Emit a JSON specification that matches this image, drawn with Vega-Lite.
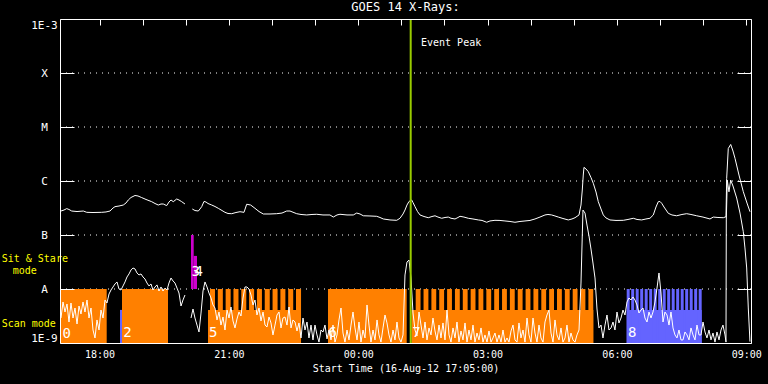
{
  "$schema": "https://vega.github.io/schema/vega-lite/v6.json",
  "width": 691,
  "height": 324,
  "autosize": "none",
  "padding": {"left": 60, "top": 19, "right": 17, "bottom": 41},
  "background": "black",
  "title": {"text": "GOES 14 X-Rays:", "color": "white", "font": "DejaVu Sans Mono", "fontSize": 12, "fontWeight": "normal", "offset": 4, "anchor": "middle"},
  "config": {
    "view": {"stroke": null},
    "axis": {"domainColor": "white", "tickColor": "white", "labelColor": "white", "grid": false, "domainWidth": 1, "tickWidth": 1}
  },
  "datasets": {
    "grid": [{"f": 1e-8}, {"f": 1e-7}, {"f": 1e-6}, {"f": 1e-5}, {"f": 1e-4}],
    "rects": [
      {"t0": 17.0833, "t1": 18.1664, "f0": 1e-9, "f1": 1e-8, "k": "scan"},
      {"t0": 18.4749, "t1": 18.5213, "f0": 1e-9, "f1": 4.1e-9, "k": "blue"},
      {"t0": 18.5213, "t1": 19.5882, "f0": 1e-9, "f1": 1e-8, "k": "scan"},
      {"t0": 20.1216, "t1": 20.1842, "f0": 1e-8, "f1": 1e-7, "k": "stare"},
      {"t0": 20.1842, "t1": 20.2608, "f0": 1e-8, "f1": 4.1e-8, "k": "stare"},
      {"t0": 20.5159, "t1": 22.6729, "f0": 1e-9, "f1": 4.1e-9, "k": "scan"},
      {"t0": 20.5623, "t1": 20.6787, "f0": 1e-9, "f1": 1e-8, "k": "scan"},
      {"t0": 20.7437, "t1": 20.8601, "f0": 1e-9, "f1": 1e-8, "k": "scan"},
      {"t0": 20.9250, "t1": 21.0414, "f0": 1e-9, "f1": 1e-8, "k": "scan"},
      {"t0": 21.1064, "t1": 21.2228, "f0": 1e-9, "f1": 1e-8, "k": "scan"},
      {"t0": 21.2878, "t1": 21.4042, "f0": 1e-9, "f1": 1e-8, "k": "scan"},
      {"t0": 21.4691, "t1": 21.5855, "f0": 1e-9, "f1": 1e-8, "k": "scan"},
      {"t0": 21.6505, "t1": 21.7669, "f0": 1e-9, "f1": 1e-8, "k": "scan"},
      {"t0": 21.8319, "t1": 21.9483, "f0": 1e-9, "f1": 1e-8, "k": "scan"},
      {"t0": 22.0133, "t1": 22.1297, "f0": 1e-9, "f1": 1e-8, "k": "scan"},
      {"t0": 22.1946, "t1": 22.3110, "f0": 1e-9, "f1": 1e-8, "k": "scan"},
      {"t0": 22.3760, "t1": 22.4924, "f0": 1e-9, "f1": 1e-8, "k": "scan"},
      {"t0": 22.5574, "t1": 22.6738, "f0": 1e-9, "f1": 1e-8, "k": "scan"},
      {"t0": 23.2990, "t1": 25.1243, "f0": 1e-9, "f1": 1e-8, "k": "scan"},
      {"t0": 25.2356, "t1": 29.4521, "f0": 1e-9, "f1": 4.1e-9, "k": "scan"},
      {"t0": 25.3330, "t1": 25.4455, "f0": 1e-9, "f1": 1e-8, "k": "scan"},
      {"t0": 25.5151, "t1": 25.6276, "f0": 1e-9, "f1": 1e-8, "k": "scan"},
      {"t0": 25.6971, "t1": 25.8096, "f0": 1e-9, "f1": 1e-8, "k": "scan"},
      {"t0": 25.8792, "t1": 25.9917, "f0": 1e-9, "f1": 1e-8, "k": "scan"},
      {"t0": 26.0613, "t1": 26.1738, "f0": 1e-9, "f1": 1e-8, "k": "scan"},
      {"t0": 26.2434, "t1": 26.3559, "f0": 1e-9, "f1": 1e-8, "k": "scan"},
      {"t0": 26.4254, "t1": 26.5379, "f0": 1e-9, "f1": 1e-8, "k": "scan"},
      {"t0": 26.6075, "t1": 26.7200, "f0": 1e-9, "f1": 1e-8, "k": "scan"},
      {"t0": 26.7896, "t1": 26.9021, "f0": 1e-9, "f1": 1e-8, "k": "scan"},
      {"t0": 26.9716, "t1": 27.0841, "f0": 1e-9, "f1": 1e-8, "k": "scan"},
      {"t0": 27.1537, "t1": 27.2662, "f0": 1e-9, "f1": 1e-8, "k": "scan"},
      {"t0": 27.3358, "t1": 27.4483, "f0": 1e-9, "f1": 1e-8, "k": "scan"},
      {"t0": 27.5178, "t1": 27.6303, "f0": 1e-9, "f1": 1e-8, "k": "scan"},
      {"t0": 27.6999, "t1": 27.8124, "f0": 1e-9, "f1": 1e-8, "k": "scan"},
      {"t0": 27.8820, "t1": 27.9945, "f0": 1e-9, "f1": 1e-8, "k": "scan"},
      {"t0": 28.0641, "t1": 28.1766, "f0": 1e-9, "f1": 1e-8, "k": "scan"},
      {"t0": 28.2461, "t1": 28.3586, "f0": 1e-9, "f1": 1e-8, "k": "scan"},
      {"t0": 28.4282, "t1": 28.5407, "f0": 1e-9, "f1": 1e-8, "k": "scan"},
      {"t0": 28.6103, "t1": 28.7228, "f0": 1e-9, "f1": 1e-8, "k": "scan"},
      {"t0": 28.7923, "t1": 28.9048, "f0": 1e-9, "f1": 1e-8, "k": "scan"},
      {"t0": 28.9744, "t1": 29.0869, "f0": 1e-9, "f1": 1e-8, "k": "scan"},
      {"t0": 29.1565, "t1": 29.2690, "f0": 1e-9, "f1": 1e-8, "k": "scan"},
      {"t0": 29.3385, "t1": 29.4510, "f0": 1e-9, "f1": 1e-8, "k": "scan"},
      {"t0": 30.2268, "t1": 31.9663, "f0": 1e-9, "f1": 4.1e-9, "k": "blue"},
      {"t0": 30.2268, "t1": 30.2964, "f0": 1e-9, "f1": 1e-8, "k": "blue"},
      {"t0": 30.3312, "t1": 30.4008, "f0": 1e-9, "f1": 1e-8, "k": "blue"},
      {"t0": 30.4355, "t1": 30.5051, "f0": 1e-9, "f1": 1e-8, "k": "blue"},
      {"t0": 30.5399, "t1": 30.6095, "f0": 1e-9, "f1": 1e-8, "k": "blue"},
      {"t0": 30.6443, "t1": 30.7139, "f0": 1e-9, "f1": 1e-8, "k": "blue"},
      {"t0": 30.7486, "t1": 30.8182, "f0": 1e-9, "f1": 1e-8, "k": "blue"},
      {"t0": 30.8530, "t1": 30.9226, "f0": 1e-9, "f1": 1e-8, "k": "blue"},
      {"t0": 30.9574, "t1": 31.0270, "f0": 1e-9, "f1": 1e-8, "k": "blue"},
      {"t0": 31.0617, "t1": 31.1313, "f0": 1e-9, "f1": 1e-8, "k": "blue"},
      {"t0": 31.1661, "t1": 31.2357, "f0": 1e-9, "f1": 1e-8, "k": "blue"},
      {"t0": 31.2705, "t1": 31.3401, "f0": 1e-9, "f1": 1e-8, "k": "blue"},
      {"t0": 31.3749, "t1": 31.4445, "f0": 1e-9, "f1": 1e-8, "k": "blue"},
      {"t0": 31.4792, "t1": 31.5488, "f0": 1e-9, "f1": 1e-8, "k": "blue"},
      {"t0": 31.5836, "t1": 31.6532, "f0": 1e-9, "f1": 1e-8, "k": "blue"},
      {"t0": 31.6880, "t1": 31.7576, "f0": 1e-9, "f1": 1e-8, "k": "blue"},
      {"t0": 31.7923, "t1": 31.8619, "f0": 1e-9, "f1": 1e-8, "k": "blue"},
      {"t0": 31.8967, "t1": 31.9663, "f0": 1e-9, "f1": 1e-8, "k": "blue"}
    ],
    "flux": [
      {"g": "L0", "t": 17.085, "f": 2.78e-7}, {"g": "L0", "t": 17.106, "f": 2.78e-7}, {"g": "L0", "t": 17.176, "f": 2.9e-7}, {"g": "L0", "t": 17.239, "f": 3.08e-7}, {"g": "L0", "t": 17.292, "f": 2.97e-7}, {"g": "L0", "t": 17.355, "f": 2.78e-7}, {"g": "L0", "t": 17.478, "f": 2.72e-7}, {"g": "L0", "t": 17.624, "f": 2.78e-7}, {"g": "L0", "t": 17.703, "f": 2.63e-7}, {"g": "L0", "t": 17.849, "f": 2.61e-7}, {"g": "L0", "t": 18.050, "f": 2.63e-7}, {"g": "L0", "t": 18.150, "f": 2.67e-7}, {"g": "L0", "t": 18.243, "f": 2.78e-7}, {"g": "L0", "t": 18.313, "f": 3.16e-7}, {"g": "L0", "t": 18.359, "f": 3.35e-7}, {"g": "L0", "t": 18.452, "f": 3.44e-7}, {"g": "L0", "t": 18.551, "f": 3.59e-7}, {"g": "L0", "t": 18.614, "f": 3.91e-7}, {"g": "L0", "t": 18.667, "f": 4.45e-7}, {"g": "L0", "t": 18.730, "f": 4.95e-7}, {"g": "L0", "t": 18.823, "f": 5.39e-7}, {"g": "L0", "t": 18.892, "f": 5.28e-7}, {"g": "L0", "t": 18.978, "f": 4.93e-7}, {"g": "L0", "t": 19.078, "f": 4.55e-7}, {"g": "L0", "t": 19.210, "f": 4.14e-7}, {"g": "L0", "t": 19.287, "f": 3.83e-7}, {"g": "L0", "t": 19.363, "f": 3.59e-7}, {"g": "L0", "t": 19.426, "f": 3.75e-7}, {"g": "L0", "t": 19.479, "f": 3.75e-7}, {"g": "L0", "t": 19.558, "f": 3.5e-7}, {"g": "L0", "t": 19.611, "f": 4.08e-7}, {"g": "L0", "t": 19.658, "f": 4.45e-7}, {"g": "L0", "t": 19.711, "f": 4.14e-7}, {"g": "L0", "t": 19.790, "f": 4.64e-7}, {"g": "L0", "t": 19.843, "f": 4.45e-7}, {"g": "L0", "t": 19.906, "f": 4.14e-7}, {"g": "L0", "t": 19.982, "f": 3.75e-7},
      {"g": "L1", "t": 20.152, "f": 3.03e-7}, {"g": "L1", "t": 20.214, "f": 2.84e-7}, {"g": "L1", "t": 20.291, "f": 2.78e-7}, {"g": "L1", "t": 20.330, "f": 3.03e-7}, {"g": "L1", "t": 20.370, "f": 3.35e-7}, {"g": "L1", "t": 20.423, "f": 4.18e-7}, {"g": "L1", "t": 20.470, "f": 4.08e-7}, {"g": "L1", "t": 20.516, "f": 3.83e-7}, {"g": "L1", "t": 20.602, "f": 3.59e-7}, {"g": "L1", "t": 20.678, "f": 3.37e-7}, {"g": "L1", "t": 20.755, "f": 3.12e-7}, {"g": "L1", "t": 20.841, "f": 2.84e-7}, {"g": "L1", "t": 20.910, "f": 2.63e-7}, {"g": "L1", "t": 20.980, "f": 2.5e-7}, {"g": "L1", "t": 21.066, "f": 2.48e-7}, {"g": "L1", "t": 21.165, "f": 2.61e-7}, {"g": "L1", "t": 21.258, "f": 2.7e-7}, {"g": "L1", "t": 21.351, "f": 2.63e-7}, {"g": "L1", "t": 21.413, "f": 3.71e-7}, {"g": "L1", "t": 21.506, "f": 3.59e-7}, {"g": "L1", "t": 21.606, "f": 3.12e-7}, {"g": "L1", "t": 21.699, "f": 2.72e-7}, {"g": "L1", "t": 21.798, "f": 2.45e-7}, {"g": "L1", "t": 21.954, "f": 2.45e-7}, {"g": "L1", "t": 22.109, "f": 2.48e-7}, {"g": "L1", "t": 22.232, "f": 2.55e-7}, {"g": "L1", "t": 22.341, "f": 2.78e-7}, {"g": "L1", "t": 22.418, "f": 2.78e-7}, {"g": "L1", "t": 22.573, "f": 2.48e-7}, {"g": "L1", "t": 22.673, "f": 2.4e-7}, {"g": "L1", "t": 22.805, "f": 2.35e-7}, {"g": "L1", "t": 22.928, "f": 2.4e-7}, {"g": "L1", "t": 23.037, "f": 2.42e-7}, {"g": "L1", "t": 23.183, "f": 2.35e-7}, {"g": "L1", "t": 23.345, "f": 2.35e-7}, {"g": "L1", "t": 23.422, "f": 2.15e-7}, {"g": "L1", "t": 23.508, "f": 2.35e-7}, {"g": "L1", "t": 23.577, "f": 2.42e-7}, {"g": "L1", "t": 23.740, "f": 2.35e-7}, {"g": "L1", "t": 23.886, "f": 2.35e-7}, {"g": "L1", "t": 23.965, "f": 2.55e-7}, {"g": "L1", "t": 24.041, "f": 2.45e-7}, {"g": "L1", "t": 24.118, "f": 2.27e-7}, {"g": "L1", "t": 24.273, "f": 2.25e-7}, {"g": "L1", "t": 24.429, "f": 2.22e-7}, {"g": "L1", "t": 24.505, "f": 2.11e-7}, {"g": "L1", "t": 24.582, "f": 1.98e-7}, {"g": "L1", "t": 24.737, "f": 1.9e-7}, {"g": "L1", "t": 24.892, "f": 1.87e-7}, {"g": "L1", "t": 24.969, "f": 2.04e-7}, {"g": "L1", "t": 25.039, "f": 2.45e-7}, {"g": "L1", "t": 25.085, "f": 2.9e-7}, {"g": "L1", "t": 25.131, "f": 3.59e-7}, {"g": "L1", "t": 25.178, "f": 4.18e-7}, {"g": "L1", "t": 25.240, "f": 4.45e-7}, {"g": "L1", "t": 25.270, "f": 4.0e-7}, {"g": "L1", "t": 25.317, "f": 3.35e-7}, {"g": "L1", "t": 25.375, "f": 2.72e-7}, {"g": "L1", "t": 25.433, "f": 2.35e-7}, {"g": "L1", "t": 25.526, "f": 2.2e-7}, {"g": "L1", "t": 25.625, "f": 2.09e-7}, {"g": "L1", "t": 25.711, "f": 2.2e-7}, {"g": "L1", "t": 25.781, "f": 2.27e-7}, {"g": "L1", "t": 25.850, "f": 2.15e-7}, {"g": "L1", "t": 25.936, "f": 2.04e-7}, {"g": "L1", "t": 26.013, "f": 2.11e-7}, {"g": "L1", "t": 26.089, "f": 2.15e-7}, {"g": "L1", "t": 26.152, "f": 2.04e-7}, {"g": "L1", "t": 26.245, "f": 1.98e-7}, {"g": "L1", "t": 26.314, "f": 2.11e-7}, {"g": "L1", "t": 26.361, "f": 2.22e-7}, {"g": "L1", "t": 26.453, "f": 2.15e-7}, {"g": "L1", "t": 26.553, "f": 2.04e-7}, {"g": "L1", "t": 26.662, "f": 1.98e-7}, {"g": "L1", "t": 26.785, "f": 1.9e-7}, {"g": "L1", "t": 26.871, "f": 1.86e-7}, {"g": "L1", "t": 26.980, "f": 1.72e-7}, {"g": "L1", "t": 27.056, "f": 1.82e-7}, {"g": "L1", "t": 27.172, "f": 1.87e-7}, {"g": "L1", "t": 27.288, "f": 1.86e-7}, {"g": "L1", "t": 27.404, "f": 1.82e-7}, {"g": "L1", "t": 27.520, "f": 1.78e-7}, {"g": "L1", "t": 27.636, "f": 1.72e-7}, {"g": "L1", "t": 27.752, "f": 1.78e-7}, {"g": "L1", "t": 27.868, "f": 1.82e-7}, {"g": "L1", "t": 27.984, "f": 1.86e-7}, {"g": "L1", "t": 28.100, "f": 1.98e-7}, {"g": "L1", "t": 28.216, "f": 2.15e-7}, {"g": "L1", "t": 28.332, "f": 2.35e-7}, {"g": "L1", "t": 28.401, "f": 2.4e-7}, {"g": "L1", "t": 28.487, "f": 2.35e-7}, {"g": "L1", "t": 28.564, "f": 2.25e-7}, {"g": "L1", "t": 28.640, "f": 2.15e-7}, {"g": "L1", "t": 28.749, "f": 2.02e-7}, {"g": "L1", "t": 28.872, "f": 1.9e-7}, {"g": "L1", "t": 28.958, "f": 1.98e-7}, {"g": "L1", "t": 29.028, "f": 2.09e-7}, {"g": "L1", "t": 29.121, "f": 2.35e-7}, {"g": "L1", "t": 29.167, "f": 3.59e-7}, {"g": "L1", "t": 29.197, "f": 6.81e-7}, {"g": "L1", "t": 29.220, "f": 1.29e-6}, {"g": "L1", "t": 29.236, "f": 1.79e-6}, {"g": "L1", "t": 29.283, "f": 1.67e-6}, {"g": "L1", "t": 29.336, "f": 1.49e-6}, {"g": "L1", "t": 29.399, "f": 1.16e-6}, {"g": "L1", "t": 29.452, "f": 9.07e-7}, {"g": "L1", "t": 29.515, "f": 6.26e-7}, {"g": "L1", "t": 29.568, "f": 4.14e-7}, {"g": "L1", "t": 29.631, "f": 3.03e-7}, {"g": "L1", "t": 29.684, "f": 2.35e-7}, {"g": "L1", "t": 29.747, "f": 2.07e-7}, {"g": "L1", "t": 29.839, "f": 1.9e-7}, {"g": "L1", "t": 29.979, "f": 1.86e-7}, {"g": "L1", "t": 30.148, "f": 1.87e-7}, {"g": "L1", "t": 30.257, "f": 1.94e-7}, {"g": "L1", "t": 30.380, "f": 2.04e-7}, {"g": "L1", "t": 30.466, "f": 1.94e-7}, {"g": "L1", "t": 30.575, "f": 1.9e-7}, {"g": "L1", "t": 30.674, "f": 1.98e-7}, {"g": "L1", "t": 30.767, "f": 2.04e-7}, {"g": "L1", "t": 30.844, "f": 2.35e-7}, {"g": "L1", "t": 30.906, "f": 3.3e-7}, {"g": "L1", "t": 30.960, "f": 4.14e-7}, {"g": "L1", "t": 30.999, "f": 4.18e-7}, {"g": "L1", "t": 31.039, "f": 3.86e-7}, {"g": "L1", "t": 31.092, "f": 3.3e-7}, {"g": "L1", "t": 31.192, "f": 2.52e-7}, {"g": "L1", "t": 31.277, "f": 2.35e-7}, {"g": "L1", "t": 31.386, "f": 2.27e-7}, {"g": "L1", "t": 31.509, "f": 2.4e-7}, {"g": "L1", "t": 31.618, "f": 2.48e-7}, {"g": "L1", "t": 31.718, "f": 2.4e-7}, {"g": "L1", "t": 31.850, "f": 2.27e-7}, {"g": "L1", "t": 31.996, "f": 2.15e-7}, {"g": "L1", "t": 32.159, "f": 1.98e-7}, {"g": "L1", "t": 32.235, "f": 2.15e-7}, {"g": "L1", "t": 32.344, "f": 2.11e-7}, {"g": "L1", "t": 32.467, "f": 2.09e-7}, {"g": "L1", "t": 32.530, "f": 2.18e-7}, {"g": "L1", "t": 32.546, "f": 1.12e-6}, {"g": "L1", "t": 32.583, "f": 4.0e-6}, {"g": "L1", "t": 32.639, "f": 4.75e-6}, {"g": "L1", "t": 32.692, "f": 3.59e-6}, {"g": "L1", "t": 32.739, "f": 2.63e-6}, {"g": "L1", "t": 32.831, "f": 1.29e-6}, {"g": "L1", "t": 32.931, "f": 6.34e-7}, {"g": "L1", "t": 33.017, "f": 3.91e-7}, {"g": "L1", "t": 33.087, "f": 2.7e-7},
      {"g": "S0", "t": 17.106, "f": 2.9e-9}, {"g": "S0", "t": 17.153, "f": 5.75e-9}, {"g": "S0", "t": 17.199, "f": 3.75e-9}, {"g": "S0", "t": 17.246, "f": 5.28e-9}, {"g": "S0", "t": 17.292, "f": 2.45e-9}, {"g": "S0", "t": 17.338, "f": 5.5e-9}, {"g": "S0", "t": 17.385, "f": 2.9e-9}, {"g": "S0", "t": 17.431, "f": 4.45e-9}, {"g": "S0", "t": 17.478, "f": 2.25e-9}, {"g": "S0", "t": 17.524, "f": 4.84e-9}, {"g": "S0", "t": 17.570, "f": 3.44e-9}, {"g": "S0", "t": 17.617, "f": 5.75e-9}, {"g": "S0", "t": 17.663, "f": 3.75e-9}, {"g": "S0", "t": 17.710, "f": 6.26e-9}, {"g": "S0", "t": 17.756, "f": 2.9e-9}, {"g": "S0", "t": 17.802, "f": 4.45e-9}, {"g": "S0", "t": 17.849, "f": 1.74e-9}, {"g": "S0", "t": 17.895, "f": 1.24e-9}, {"g": "S0", "t": 17.941, "f": 2.67e-9}, {"g": "S0", "t": 17.988, "f": 1.74e-9}, {"g": "S0", "t": 18.034, "f": 4.08e-9}, {"g": "S0", "t": 18.081, "f": 2.9e-9}, {"g": "S0", "t": 18.127, "f": 6.26e-9}, {"g": "S0", "t": 18.173, "f": 5.5e-9}, {"g": "S0", "t": 18.220, "f": 8.08e-9}, {"g": "S0", "t": 18.266, "f": 9.58e-9}, {"g": "S0", "t": 18.313, "f": 1.09e-8}, {"g": "S0", "t": 18.359, "f": 1.24e-8}, {"g": "S0", "t": 18.405, "f": 1.35e-8}, {"g": "S0", "t": 18.452, "f": 1.0e-8}, {"g": "S0", "t": 18.498, "f": 9.58e-9}, {"g": "S0", "t": 18.545, "f": 1.14e-8}, {"g": "S0", "t": 18.591, "f": 1.35e-8}, {"g": "S0", "t": 18.637, "f": 1.67e-8}, {"g": "S0", "t": 18.684, "f": 1.9e-8}, {"g": "S0", "t": 18.730, "f": 2.25e-8}, {"g": "S0", "t": 18.776, "f": 2.45e-8}, {"g": "S0", "t": 18.823, "f": 2.35e-8}, {"g": "S0", "t": 18.869, "f": 1.98e-8}, {"g": "S0", "t": 18.916, "f": 1.82e-8}, {"g": "S0", "t": 18.962, "f": 1.9e-8}, {"g": "S0", "t": 19.008, "f": 1.67e-8}, {"g": "S0", "t": 19.055, "f": 1.53e-8}, {"g": "S0", "t": 19.101, "f": 1.29e-8}, {"g": "S0", "t": 19.147, "f": 1.14e-8}, {"g": "S0", "t": 19.194, "f": 1.24e-8}, {"g": "S0", "t": 19.240, "f": 9.58e-9}, {"g": "S0", "t": 19.287, "f": 1.09e-8}, {"g": "S0", "t": 19.333, "f": 1.19e-8}, {"g": "S0", "t": 19.379, "f": 9.18e-9}, {"g": "S0", "t": 19.426, "f": 1.09e-8}, {"g": "S0", "t": 19.472, "f": 9.18e-9}, {"g": "S0", "t": 19.519, "f": 1.04e-8}, {"g": "S0", "t": 19.565, "f": 9.58e-9}, {"g": "S0", "t": 19.611, "f": 1.29e-8}, {"g": "S0", "t": 19.658, "f": 1.6e-8}, {"g": "S0", "t": 19.704, "f": 1.41e-8}, {"g": "S0", "t": 19.750, "f": 1.29e-8}, {"g": "S0", "t": 19.797, "f": 1.04e-8}, {"g": "S0", "t": 19.843, "f": 8.43e-9}, {"g": "S0", "t": 19.890, "f": 4.84e-9}, {"g": "S0", "t": 19.936, "f": 6.26e-9}, {"g": "S0", "t": 19.982, "f": 7.74e-9},
      {"g": "S1", "t": 20.122, "f": 2.9e-9}, {"g": "S1", "t": 20.168, "f": 4.26e-9}, {"g": "S1", "t": 20.214, "f": 2.9e-9}, {"g": "S1", "t": 20.261, "f": 2.15e-9}, {"g": "S1", "t": 20.307, "f": 1.6e-9}, {"g": "S1", "t": 20.354, "f": 3.59e-9}, {"g": "S1", "t": 20.400, "f": 9.18e-9}, {"g": "S1", "t": 20.446, "f": 1.35e-8}, {"g": "S1", "t": 20.493, "f": 1.09e-8}, {"g": "S1", "t": 20.539, "f": 8.43e-9}, {"g": "S1", "t": 20.586, "f": 6.81e-9}, {"g": "S1", "t": 20.632, "f": 5.06e-9}, {"g": "S1", "t": 20.678, "f": 4.45e-9}, {"g": "S1", "t": 20.725, "f": 2.67e-9}, {"g": "S1", "t": 20.771, "f": 3.75e-9}, {"g": "S1", "t": 20.817, "f": 2.15e-9}, {"g": "S1", "t": 20.864, "f": 3.03e-9}, {"g": "S1", "t": 20.910, "f": 1.74e-9}, {"g": "S1", "t": 20.957, "f": 4.08e-9}, {"g": "S1", "t": 21.003, "f": 2.9e-9}, {"g": "S1", "t": 21.049, "f": 4.64e-9}, {"g": "S1", "t": 21.096, "f": 2.56e-9}, {"g": "S1", "t": 21.142, "f": 1.9e-9}, {"g": "S1", "t": 21.188, "f": 2.78e-9}, {"g": "S1", "t": 21.235, "f": 3.75e-9}, {"g": "S1", "t": 21.281, "f": 3.16e-9}, {"g": "S1", "t": 21.328, "f": 6.81e-9}, {"g": "S1", "t": 21.374, "f": 1.09e-8}, {"g": "S1", "t": 21.420, "f": 1.09e-8}, {"g": "S1", "t": 21.467, "f": 1.0e-8}, {"g": "S1", "t": 21.513, "f": 7.74e-9}, {"g": "S1", "t": 21.560, "f": 5.06e-9}, {"g": "S1", "t": 21.606, "f": 6.26e-9}, {"g": "S1", "t": 21.652, "f": 3.3e-9}, {"g": "S1", "t": 21.699, "f": 4.45e-9}, {"g": "S1", "t": 21.745, "f": 2.56e-9}, {"g": "S1", "t": 21.792, "f": 3.75e-9}, {"g": "S1", "t": 21.838, "f": 2.15e-9}, {"g": "S1", "t": 21.884, "f": 1.98e-9}, {"g": "S1", "t": 21.931, "f": 3.03e-9}, {"g": "S1", "t": 21.977, "f": 2.35e-9}, {"g": "S1", "t": 22.023, "f": 1.41e-9}, {"g": "S1", "t": 22.070, "f": 2.15e-9}, {"g": "S1", "t": 22.116, "f": 3.3e-9}, {"g": "S1", "t": 22.163, "f": 3.75e-9}, {"g": "S1", "t": 22.209, "f": 1.9e-9}, {"g": "S1", "t": 22.255, "f": 2.9e-9}, {"g": "S1", "t": 22.302, "f": 3.03e-9}, {"g": "S1", "t": 22.348, "f": 2.15e-9}, {"g": "S1", "t": 22.395, "f": 4.64e-9}, {"g": "S1", "t": 22.441, "f": 1.9e-9}, {"g": "S1", "t": 22.487, "f": 2.67e-9}, {"g": "S1", "t": 22.534, "f": 2.45e-9}, {"g": "S1", "t": 22.580, "f": 1.67e-9}, {"g": "S1", "t": 22.626, "f": 2.35e-9}, {"g": "S1", "t": 22.673, "f": 1.24e-9}, {"g": "S1", "t": 22.719, "f": 2.9e-9}, {"g": "S1", "t": 22.766, "f": 1.74e-9}, {"g": "S1", "t": 22.812, "f": 2.45e-9}, {"g": "S1", "t": 22.858, "f": 1.24e-9}, {"g": "S1", "t": 22.905, "f": 2.15e-9}, {"g": "S1", "t": 22.951, "f": 1.14e-9}, {"g": "S1", "t": 22.997, "f": 2.15e-9}, {"g": "S1", "t": 23.044, "f": 1.41e-9}, {"g": "S1", "t": 23.090, "f": 1.04e-9}, {"g": "S1", "t": 23.137, "f": 1.74e-9}, {"g": "S1", "t": 23.183, "f": 1.6e-9}, {"g": "S1", "t": 23.229, "f": 2.15e-9}, {"g": "S1", "t": 23.276, "f": 1.19e-9}, {"g": "S1", "t": 23.322, "f": 1.74e-9}, {"g": "S1", "t": 23.369, "f": 1.14e-9}, {"g": "S1", "t": 23.415, "f": 2.15e-9}, {"g": "S1", "t": 23.461, "f": 1.04e-9}, {"g": "S1", "t": 23.508, "f": 1.41e-9}, {"g": "S1", "t": 23.554, "f": 2.67e-9}, {"g": "S1", "t": 23.601, "f": 4.45e-9}, {"g": "S1", "t": 23.647, "f": 1.53e-9}, {"g": "S1", "t": 23.693, "f": 1.04e-9}, {"g": "S1", "t": 23.740, "f": 1.74e-9}, {"g": "S1", "t": 23.786, "f": 1.14e-9}, {"g": "S1", "t": 23.833, "f": 2.15e-9}, {"g": "S1", "t": 23.879, "f": 3.75e-9}, {"g": "S1", "t": 23.925, "f": 1.9e-9}, {"g": "S1", "t": 23.972, "f": 1.14e-9}, {"g": "S1", "t": 24.018, "f": 2.45e-9}, {"g": "S1", "t": 24.064, "f": 1.04e-9}, {"g": "S1", "t": 24.111, "f": 1.74e-9}, {"g": "S1", "t": 24.157, "f": 1.24e-9}, {"g": "S1", "t": 24.204, "f": 5.06e-9}, {"g": "S1", "t": 24.250, "f": 2.15e-9}, {"g": "S1", "t": 24.296, "f": 1.04e-9}, {"g": "S1", "t": 24.343, "f": 1.74e-9}, {"g": "S1", "t": 24.389, "f": 1.14e-9}, {"g": "S1", "t": 24.436, "f": 2.67e-9}, {"g": "S1", "t": 24.482, "f": 1.41e-9}, {"g": "S1", "t": 24.528, "f": 1.04e-9}, {"g": "S1", "t": 24.575, "f": 1.9e-9}, {"g": "S1", "t": 24.621, "f": 3.3e-9}, {"g": "S1", "t": 24.667, "f": 2.35e-9}, {"g": "S1", "t": 24.714, "f": 1.41e-9}, {"g": "S1", "t": 24.760, "f": 1.04e-9}, {"g": "S1", "t": 24.807, "f": 1.74e-9}, {"g": "S1", "t": 24.853, "f": 1.14e-9}, {"g": "S1", "t": 24.899, "f": 2.45e-9}, {"g": "S1", "t": 24.946, "f": 1.24e-9}, {"g": "S1", "t": 24.992, "f": 1.04e-9}, {"g": "S1", "t": 25.039, "f": 1.41e-9}, {"g": "S1", "t": 25.085, "f": 1.82e-8}, {"g": "S1", "t": 25.131, "f": 3.16e-8}, {"g": "S1", "t": 25.178, "f": 3.44e-8}, {"g": "S1", "t": 25.224, "f": 1.6e-8}, {"g": "S1", "t": 25.271, "f": 3.59e-9}, {"g": "S1", "t": 25.317, "f": 1.74e-9}, {"g": "S1", "t": 25.363, "f": 1.35e-9}, {"g": "S1", "t": 25.410, "f": 3.75e-9}, {"g": "S1", "t": 25.456, "f": 2.15e-9}, {"g": "S1", "t": 25.503, "f": 1.24e-9}, {"g": "S1", "t": 25.549, "f": 2.45e-9}, {"g": "S1", "t": 25.595, "f": 1.14e-9}, {"g": "S1", "t": 25.642, "f": 1.9e-9}, {"g": "S1", "t": 25.688, "f": 1.41e-9}, {"g": "S1", "t": 25.734, "f": 2.9e-9}, {"g": "S1", "t": 25.781, "f": 1.67e-9}, {"g": "S1", "t": 25.827, "f": 1.14e-9}, {"g": "S1", "t": 25.874, "f": 2.15e-9}, {"g": "S1", "t": 25.920, "f": 1.24e-9}, {"g": "S1", "t": 25.966, "f": 2.35e-9}, {"g": "S1", "t": 26.013, "f": 1.14e-9}, {"g": "S1", "t": 26.059, "f": 4.08e-9}, {"g": "S1", "t": 26.106, "f": 1.41e-9}, {"g": "S1", "t": 26.152, "f": 1.04e-9}, {"g": "S1", "t": 26.198, "f": 1.9e-9}, {"g": "S1", "t": 26.245, "f": 1.24e-9}, {"g": "S1", "t": 26.291, "f": 2.45e-9}, {"g": "S1", "t": 26.337, "f": 1.04e-9}, {"g": "S1", "t": 26.384, "f": 1.67e-9}, {"g": "S1", "t": 26.430, "f": 1.14e-9}, {"g": "S1", "t": 26.477, "f": 2.35e-9}, {"g": "S1", "t": 26.523, "f": 1.04e-9}, {"g": "S1", "t": 26.569, "f": 1.74e-9}, {"g": "S1", "t": 26.616, "f": 1.14e-9}, {"g": "S1", "t": 26.662, "f": 2.15e-9}, {"g": "S1", "t": 26.708, "f": 1.04e-9}, {"g": "S1", "t": 26.755, "f": 1.53e-9}, {"g": "S1", "t": 26.801, "f": 1.14e-9}, {"g": "S1", "t": 26.848, "f": 1.9e-9}, {"g": "S1", "t": 26.894, "f": 1.04e-9}, {"g": "S1", "t": 26.940, "f": 1.41e-9}, {"g": "S1", "t": 26.987, "f": 1.04e-9}, {"g": "S1", "t": 27.033, "f": 1.67e-9}, {"g": "S1", "t": 27.080, "f": 1.04e-9}, {"g": "S1", "t": 27.126, "f": 1.24e-9}, {"g": "S1", "t": 27.172, "f": 1.53e-9}, {"g": "S1", "t": 27.219, "f": 1.04e-9}, {"g": "S1", "t": 27.265, "f": 1.41e-9}, {"g": "S1", "t": 27.312, "f": 1.04e-9}, {"g": "S1", "t": 27.358, "f": 1.74e-9}, {"g": "S1", "t": 27.404, "f": 1.04e-9}, {"g": "S1", "t": 27.451, "f": 1.24e-9}, {"g": "S1", "t": 27.497, "f": 1.04e-9}, {"g": "S1", "t": 27.544, "f": 1.67e-9}, {"g": "S1", "t": 27.590, "f": 2.15e-9}, {"g": "S1", "t": 27.636, "f": 1.14e-9}, {"g": "S1", "t": 27.683, "f": 1.04e-9}, {"g": "S1", "t": 27.729, "f": 2.35e-9}, {"g": "S1", "t": 27.775, "f": 1.24e-9}, {"g": "S1", "t": 27.822, "f": 1.74e-9}, {"g": "S1", "t": 27.868, "f": 1.04e-9}, {"g": "S1", "t": 27.915, "f": 2.9e-9}, {"g": "S1", "t": 27.961, "f": 1.41e-9}, {"g": "S1", "t": 28.007, "f": 1.04e-9}, {"g": "S1", "t": 28.054, "f": 2.9e-9}, {"g": "S1", "t": 28.100, "f": 1.53e-9}, {"g": "S1", "t": 28.146, "f": 1.04e-9}, {"g": "S1", "t": 28.193, "f": 2.15e-9}, {"g": "S1", "t": 28.239, "f": 1.24e-9}, {"g": "S1", "t": 28.286, "f": 1.04e-9}, {"g": "S1", "t": 28.332, "f": 2.45e-9}, {"g": "S1", "t": 28.378, "f": 3.3e-9}, {"g": "S1", "t": 28.425, "f": 4.08e-9}, {"g": "S1", "t": 28.471, "f": 1.53e-9}, {"g": "S1", "t": 28.518, "f": 1.04e-9}, {"g": "S1", "t": 28.564, "f": 2.67e-9}, {"g": "S1", "t": 28.610, "f": 1.41e-9}, {"g": "S1", "t": 28.657, "f": 1.14e-9}, {"g": "S1", "t": 28.703, "f": 1.9e-9}, {"g": "S1", "t": 28.749, "f": 1.04e-9}, {"g": "S1", "t": 28.796, "f": 1.24e-9}, {"g": "S1", "t": 28.842, "f": 2.15e-9}, {"g": "S1", "t": 28.889, "f": 1.04e-9}, {"g": "S1", "t": 28.935, "f": 1.53e-9}, {"g": "S1", "t": 28.981, "f": 1.14e-9}, {"g": "S1", "t": 29.028, "f": 1.04e-9}, {"g": "S1", "t": 29.074, "f": 1.41e-9}, {"g": "S1", "t": 29.121, "f": 1.74e-9}, {"g": "S1", "t": 29.167, "f": 1.29e-8}, {"g": "S1", "t": 29.213, "f": 2.9e-7}, {"g": "S1", "t": 29.260, "f": 2.55e-7}, {"g": "S1", "t": 29.306, "f": 1.53e-7}, {"g": "S1", "t": 29.352, "f": 9.58e-8}, {"g": "S1", "t": 29.399, "f": 5.5e-8}, {"g": "S1", "t": 29.445, "f": 3.03e-8}, {"g": "S1", "t": 29.492, "f": 1.6e-8}, {"g": "S1", "t": 29.538, "f": 4.26e-9}, {"g": "S1", "t": 29.584, "f": 1.9e-9}, {"g": "S1", "t": 29.631, "f": 2.15e-9}, {"g": "S1", "t": 29.677, "f": 1.24e-9}, {"g": "S1", "t": 29.724, "f": 2.15e-9}, {"g": "S1", "t": 29.770, "f": 3.3e-9}, {"g": "S1", "t": 29.816, "f": 1.74e-9}, {"g": "S1", "t": 29.863, "f": 1.9e-9}, {"g": "S1", "t": 29.909, "f": 2.45e-9}, {"g": "S1", "t": 29.955, "f": 1.74e-9}, {"g": "S1", "t": 30.002, "f": 3.75e-9}, {"g": "S1", "t": 30.048, "f": 2.35e-9}, {"g": "S1", "t": 30.095, "f": 2.9e-9}, {"g": "S1", "t": 30.141, "f": 4.08e-9}, {"g": "S1", "t": 30.187, "f": 3.3e-9}, {"g": "S1", "t": 30.234, "f": 5.75e-9}, {"g": "S1", "t": 30.280, "f": 6.81e-9}, {"g": "S1", "t": 30.327, "f": 6.26e-9}, {"g": "S1", "t": 30.373, "f": 7.11e-9}, {"g": "S1", "t": 30.419, "f": 6.26e-9}, {"g": "S1", "t": 30.466, "f": 5.06e-9}, {"g": "S1", "t": 30.512, "f": 3.59e-9}, {"g": "S1", "t": 30.559, "f": 4.08e-9}, {"g": "S1", "t": 30.605, "f": 4.45e-9}, {"g": "S1", "t": 30.651, "f": 2.9e-9}, {"g": "S1", "t": 30.698, "f": 2.45e-9}, {"g": "S1", "t": 30.744, "f": 3.75e-9}, {"g": "S1", "t": 30.791, "f": 2.9e-9}, {"g": "S1", "t": 30.837, "f": 3.75e-9}, {"g": "S1", "t": 30.883, "f": 5.75e-9}, {"g": "S1", "t": 30.930, "f": 1.04e-8}, {"g": "S1", "t": 30.976, "f": 1.98e-8}, {"g": "S1", "t": 31.022, "f": 8.43e-9}, {"g": "S1", "t": 31.069, "f": 2.45e-9}, {"g": "S1", "t": 31.115, "f": 3.75e-9}, {"g": "S1", "t": 31.162, "f": 3.3e-9}, {"g": "S1", "t": 31.208, "f": 2.15e-9}, {"g": "S1", "t": 31.254, "f": 3.75e-9}, {"g": "S1", "t": 31.301, "f": 1.9e-9}, {"g": "S1", "t": 31.347, "f": 1.41e-9}, {"g": "S1", "t": 31.394, "f": 1.24e-9}, {"g": "S1", "t": 31.440, "f": 1.74e-9}, {"g": "S1", "t": 31.486, "f": 1.14e-9}, {"g": "S1", "t": 31.533, "f": 1.14e-9}, {"g": "S1", "t": 31.579, "f": 1.6e-9}, {"g": "S1", "t": 31.626, "f": 1.41e-9}, {"g": "S1", "t": 31.672, "f": 1.14e-9}, {"g": "S1", "t": 31.718, "f": 1.9e-9}, {"g": "S1", "t": 31.765, "f": 1.41e-9}, {"g": "S1", "t": 31.811, "f": 1.14e-9}, {"g": "S1", "t": 31.857, "f": 2.15e-9}, {"g": "S1", "t": 31.904, "f": 1.41e-9}, {"g": "S1", "t": 31.950, "f": 1.41e-9}, {"g": "S1", "t": 31.997, "f": 2.45e-9}, {"g": "S1", "t": 32.043, "f": 1.6e-9}, {"g": "S1", "t": 32.089, "f": 1.24e-9}, {"g": "S1", "t": 32.136, "f": 1.74e-9}, {"g": "S1", "t": 32.182, "f": 1.14e-9}, {"g": "S1", "t": 32.228, "f": 1.53e-9}, {"g": "S1", "t": 32.275, "f": 1.04e-9}, {"g": "S1", "t": 32.321, "f": 1.6e-9}, {"g": "S1", "t": 32.368, "f": 1.14e-9}, {"g": "S1", "t": 32.414, "f": 1.74e-9}, {"g": "S1", "t": 32.460, "f": 2.15e-9}, {"g": "S1", "t": 32.507, "f": 1.41e-9}, {"g": "S1", "t": 32.530, "f": 1.04e-9}, {"g": "S1", "t": 32.537, "f": 1.9e-7}, {"g": "S1", "t": 32.560, "f": 1.04e-6}, {"g": "S1", "t": 32.599, "f": 6.3e-7}, {"g": "S1", "t": 32.639, "f": 1.04e-6}, {"g": "S1", "t": 32.692, "f": 8.08e-7}, {"g": "S1", "t": 32.778, "f": 4.84e-7}, {"g": "S1", "t": 32.855, "f": 2.55e-7}, {"g": "S1", "t": 32.931, "f": 1.15e-7}, {"g": "S1", "t": 32.970, "f": 5.75e-8}, {"g": "S1", "t": 33.010, "f": 2.45e-8}, {"g": "S1", "t": 33.047, "f": 4.45e-9}, {"g": "S1", "t": 33.086, "f": 1.06e-9}
    ],
    "peak": [{"t": 25.2171}],
    "modes": [
      {"t": 15.731, "f": 3.64e-8, "text": "Sit & Stare"},
      {"t": 15.986, "f": 2.13e-8, "text": "mode"},
      {"t": 15.731, "f": 2.25e-9, "text": "Scan mode"}
    ],
    "nums": [
      {"t": 17.239, "f": 1.49e-9, "text": "0"},
      {"t": 18.649, "f": 1.5e-9, "text": "2"},
      {"t": 20.231, "f": 2.03e-8, "text": "3"},
      {"t": 20.300, "f": 2.03e-8, "text": "4"},
      {"t": 20.637, "f": 1.5e-9, "text": "5"},
      {"t": 23.408, "f": 1.5e-9, "text": "6"},
      {"t": 25.352, "f": 1.5e-9, "text": "7"},
      {"t": 30.354, "f": 1.5e-9, "text": "8"}
    ],
    "note": [{"t": 25.456, "f": 3.64e-4, "text": "Event Peak"}]
  },
  "layer": [
    {
      "data": {"name": "grid"},
      "mark": {"type": "rule", "color": "white", "strokeDash": [1, 5], "strokeWidth": 1},
      "encoding": {
        "y": {"field": "f", "type": "quantitative", "scale": {"type": "log", "domain": [1e-9, 1e-3], "nice": false}, "axis": null}
      }
    },
    {
      "data": {"name": "rects"},
      "mark": {"type": "rect"},
      "encoding": {
        "x": {"field": "t0", "type": "quantitative", "scale": {"domain": [17.0833, 33.11], "nice": false, "zero": false},
          "axis": {"orient": "bottom", "values": [18, 21, 24, 27, 30, 33], "labelExpr": "(datum.value % 24 < 10 ? '0' : '') + (datum.value % 24) + ':00'", "ticks": false, "domain": true, "labelFont": "DejaVu Sans Mono", "labelFontSize": 10, "labelPadding": 6, "labelFlush": false, "title": "Start Time (16-Aug-12 17:05:00)", "titleColor": "white", "titleFont": "DejaVu Sans Mono", "titleFontSize": 10, "titleFontWeight": "normal", "titlePadding": 4, "zindex": 1}},
        "x2": {"field": "t1"},
        "y": {"field": "f0", "type": "quantitative", "scale": {"type": "log", "domain": [1e-9, 1e-3], "nice": false},
          "axis": {"orient": "left", "values": [1e-9, 1e-8, 1e-7, 1e-6, 1e-5, 1e-4, 1e-3], "labelExpr": "datum.value < 5e-9 ? '1E-9' : datum.value < 5e-8 ? 'A' : datum.value < 5e-7 ? 'B' : datum.value < 5e-6 ? 'C' : datum.value < 5e-5 ? 'M' : datum.value < 5e-4 ? 'X' : '1E-3'", "tickSize": -14, "domain": true, "labelFont": "DejaVu Sans Mono", "labelFontSize": 11, "labelAlign": "center", "labelPadding": 30, "labelFlush": true, "labelOverlap": false, "title": null, "zindex": 1}},
        "y2": {"field": "f1"},
        "color": {"field": "k", "type": "nominal", "scale": {"domain": ["scan", "blue", "stare"], "range": ["#ff8000", "#6464ff", "#cc00cc"]}, "legend": null}
      }
    },
    {
      "data": {"name": "flux"},
      "mark": {"type": "line", "color": "white", "strokeWidth": 1},
      "encoding": {
        "x": {"field": "t", "type": "quantitative", "scale": {"domain": [17.0833, 33.11], "nice": false, "zero": false},
          "axis": {"orient": "top", "values": [18, 19, 20, 21, 22, 23, 24, 25, 26, 27, 28, 29, 30, 31, 32, 33], "labels": false, "tickSize": -6, "domain": true, "title": null, "zindex": 1}},
        "y": {"field": "f", "type": "quantitative", "scale": {"type": "log", "domain": [1e-9, 1e-3], "nice": false},
          "axis": {"orient": "right", "values": [1e-9, 1e-8, 1e-7, 1e-6, 1e-5, 1e-4, 1e-3], "labels": false, "tickSize": -14, "domain": true, "title": null, "zindex": 1}},
        "detail": {"field": "g", "type": "nominal"}
      }
    },
    {
      "data": {"name": "peak"},
      "mark": {"type": "rule", "color": "#99cc00", "strokeWidth": 2},
      "encoding": {
        "x": {"field": "t", "type": "quantitative", "scale": {"domain": [17.0833, 33.11], "nice": false, "zero": false}, "axis": null}
      }
    },
    {
      "data": {"name": "modes"},
      "mark": {"type": "text", "color": "#ffff00", "font": "DejaVu Sans Mono", "fontSize": 10, "align": "left", "baseline": "middle"},
      "encoding": {
        "x": {"field": "t", "type": "quantitative", "scale": {"domain": [17.0833, 33.11], "nice": false, "zero": false}, "axis": null},
        "y": {"field": "f", "type": "quantitative", "scale": {"type": "log", "domain": [1e-9, 1e-3], "nice": false}, "axis": null},
        "text": {"field": "text"}
      }
    },
    {
      "data": {"name": "nums"},
      "mark": {"type": "text", "color": "white", "font": "DejaVu Sans Mono", "fontSize": 14, "align": "center", "baseline": "middle"},
      "encoding": {
        "x": {"field": "t", "type": "quantitative", "scale": {"domain": [17.0833, 33.11], "nice": false, "zero": false}, "axis": null},
        "y": {"field": "f", "type": "quantitative", "scale": {"type": "log", "domain": [1e-9, 1e-3], "nice": false}, "axis": null},
        "text": {"field": "text"}
      }
    },
    {
      "data": {"name": "note"},
      "mark": {"type": "text", "color": "white", "font": "DejaVu Sans Mono", "fontSize": 10, "align": "left", "baseline": "middle"},
      "encoding": {
        "x": {"field": "t", "type": "quantitative", "scale": {"domain": [17.0833, 33.11], "nice": false, "zero": false}, "axis": null},
        "y": {"field": "f", "type": "quantitative", "scale": {"type": "log", "domain": [1e-9, 1e-3], "nice": false}, "axis": null},
        "text": {"field": "text"}
      }
    }
  ],
  "resolve": {"axis": {"x": "independent", "y": "independent"}}
}
